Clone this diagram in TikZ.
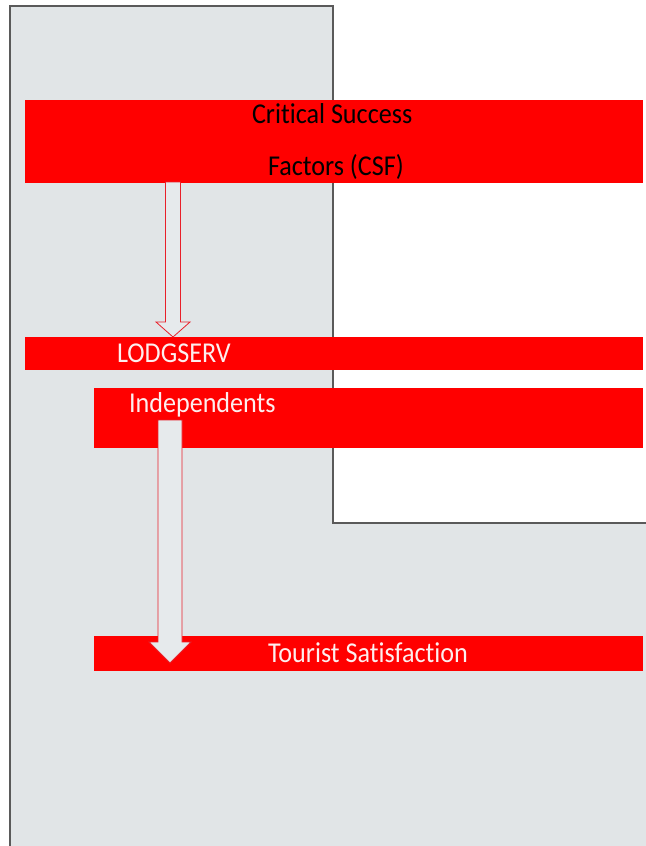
\documentclass[tikz,border=0pt]{standalone}
\usepackage{fontspec}
\setmainfont[RawFeature={-liga}]{Carlito}
\usetikzlibrary{calc,fit}
\definecolor{bggrey}{HTML}{E1E5E7}
\definecolor{edgegrey}{HTML}{5A5A5A}
\definecolor{barred}{HTML}{FF0000}
\definecolor{arrowfill}{HTML}{E6EAEC}
\definecolor{arrowedge}{HTML}{E8202A}
\definecolor{paletext}{HTML}{FDEEEE}
\tikzset{
  bar/.style={fill=barred, draw=none, inner sep=0pt, outer sep=0pt},
  lbl/.style={inner sep=0pt, outer sep=0pt, anchor=base west, font=\fontsize{19.6}{23}\selectfont},
  blockarrow/.style={fill=arrowfill, draw=arrowedge, line width=0.6pt, line join=miter},
}
\newcommand\blockarr[5]{%
  \draw[blockarrow] ($(#1)+(-#3,0)$) -- ($(#2)+(-#3,-#5)$) -- ($(#2)+(-#4,-#5)$) -- (#2)
    -- ($(#2)+(#4,-#5)$) -- ($(#2)+(#3,-#5)$) -- ($(#1)+(#3,0)$) -- cycle;}
\begin{document}
\begin{tikzpicture}[x=0.75pt,y=-0.75pt]
\useasboundingbox (0,0) rectangle (646,846);
\fill[white] (0,0) rectangle (646,846);
% grey panel
\fill[bggrey] (10,846) -- (10,6) -- (333,6) -- (333,523) -- (646,523) -- (646,846) -- cycle;
\draw[edgegrey, line width=0.9pt] (10,846) -- (10,6) -- (333,6) -- (333,523) -- (646,523);
% bars
\node[bar, fit={(25,100) (643,183)}] (csf) {};
\node[bar, fit={(25,337) (643,370)}] (lodg) {};
\node[bar, fit={(94,388) (643,448)}] (indep) {};
\node[bar, fit={(94,636) (643,671)}] (tour) {};
% labels
\node[lbl, text=black] (t1) at (252,123) {\scalebox{1}[1.1]{Critical Success}};
\node[lbl, text=black] (t2) at (268,175) {\scalebox{1}[1.1]{Factors (CSF)}};
\node[lbl, text=paletext] (t3) at (117,362) {\scalebox{1}[1.1]{LODGSERV}};
\node[lbl, text=paletext] (t4) at (129,412) {\scalebox{1}[1.1]{Independents}};
\node[lbl, text=paletext] (t5) at (268,662) {\scalebox{1}[1.1]{Tourist Satisfaction}};
% arrows
\coordinate (ax1) at (173,0);
\coordinate (a1top) at ($(ax1 |- csf.south)+(0,-1)$);
\coordinate (a1tip) at (ax1 |- lodg.north);
\blockarr{a1top}{a1tip}{7.5}{17}{15}
\coordinate (a2top) at (170,420);
\coordinate (a2tip) at (170,663);
\blockarr{a2top}{a2tip}{12}{21}{21}
\end{tikzpicture}
\end{document}
